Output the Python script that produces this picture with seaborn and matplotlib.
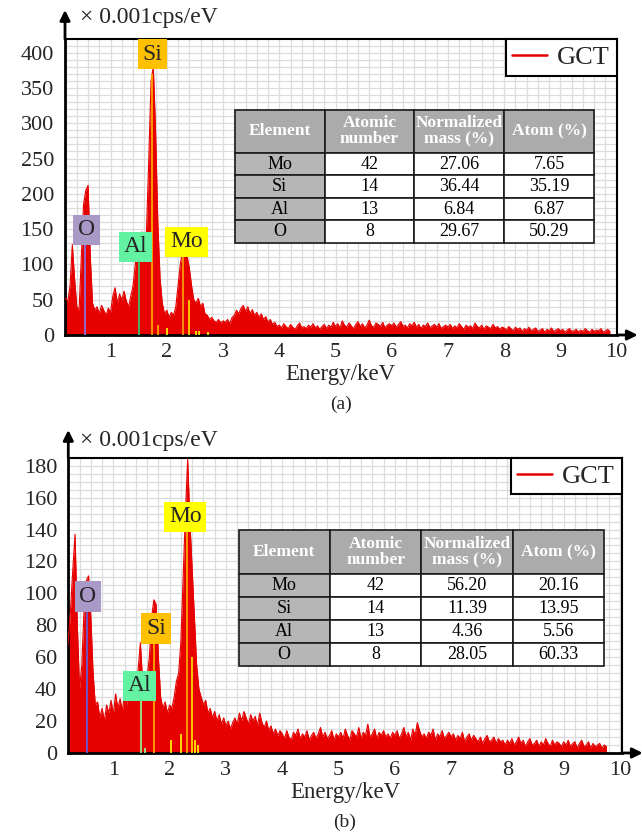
import numpy as np
import matplotlib
matplotlib.use("Agg")
import matplotlib.pyplot as plt
import seaborn as sns
import pandas as pd

# ------------------------------------------------------------------ data
e_start = 0.16      # keV of first channel
e_step = 0.04       # keV per channel

counts_a = [
    50, 52, 48, 70, 128, 80, 40, 35, 110, 185,
    205, 212, 110, 45, 35, 40, 30, 42, 35, 28,
    38, 32, 55, 67, 45, 58, 50, 62, 48, 40,
    55, 70, 100, 130, 140, 146, 110, 150, 250, 360,
    380, 290, 160, 80, 45, 30, 35, 25, 32, 28,
    40, 70, 100, 118, 120, 112, 95, 70, 50, 45,
    52, 40, 45, 30, 28, 22, 25, 20, 18, 22,
    17, 20, 18, 22, 16, 25, 28, 35, 30, 38,
    42, 33, 40, 30, 36, 28, 32, 25, 30, 22,
    26, 18, 22, 15, 18, 12,
    14, 10, 16, 12, 9, 15, 11, 8, 13, 17, 10, 12, 9, 14, 11, 16, 10, 13, 8, 12, 15, 9, 14, 11, 18,
    12, 16, 10, 20, 14, 11, 17, 13, 9, 15, 19, 12, 16, 10, 14, 21, 13, 11, 17, 15, 12, 18, 10, 14, 16,
    13, 17, 11, 15, 19, 12, 14, 10, 16, 13, 18, 11, 15, 9, 14, 12, 17, 10, 13, 15, 11, 16, 9, 12, 14,
    11, 15, 9, 13, 10, 16, 12, 8, 14, 11, 13, 9, 17, 12, 10, 14, 8, 13, 11, 9, 15, 10, 12, 8, 11,
    10, 7, 12, 9, 6, 11, 8, 10, 5, 9, 7, 11, 6, 8, 10, 5, 7, 9, 4, 8, 6, 10, 5, 7, 9,
    6, 8, 4, 7, 9, 5, 6, 8, 4, 7, 5, 9, 6, 4, 8, 5, 7, 6, 9, 4, 6, 8, 5,
]

counts_b = [
    60, 70, 90, 115, 137, 80, 40, 55, 90, 108,
    111, 85, 50, 30, 32, 22, 28, 20, 30, 25,
    33, 24, 37, 28, 34, 26, 38, 30, 42, 35,
    45, 38, 52, 69, 45, 35, 48, 60, 85, 96,
    93, 60, 35, 28, 32, 25, 30, 28, 35, 45,
    50, 70, 110, 150, 184, 145, 115, 85, 55, 40,
    35, 30, 33, 25, 28, 22, 26, 20, 24, 18,
    22, 17, 20, 15, 19, 22, 18, 25, 20, 26,
    22, 18, 24, 20, 23, 17, 25, 19, 16, 20,
    14, 17, 12, 15, 11, 14,
    12, 9, 14, 10, 8, 13, 11, 15, 9, 12, 10, 14, 8, 11, 13, 9, 12, 16, 10, 13, 9, 11, 14, 8, 12,
    10, 13, 9, 15, 11, 8, 14, 12, 10, 16, 9, 13, 11, 18, 10, 12, 15, 9, 13, 11, 14, 10, 12, 9, 13,
    11, 14, 9, 12, 16, 10, 13, 8, 15, 11, 19, 14, 10, 12, 9, 13, 11, 15, 8, 12, 10, 14, 9, 11, 13,
    10, 12, 8, 11, 9, 13, 7, 10, 12, 8, 11, 9, 7, 10, 6, 9, 11, 7, 8, 10, 6, 9, 7, 8, 5,
    8, 6, 9, 5, 7, 10, 6, 8, 4, 7, 9, 5, 6, 8, 4, 7, 5, 9, 6, 4, 8, 5, 7, 6, 4,
    7, 5, 8, 4, 6, 7, 3, 6, 8, 4, 5, 7, 3, 6, 4, 5, 6, 3, 5, 4,
]

x_ticks = [1, 2, 3, 4, 5, 6, 7, 8, 9, 10]
y_ticks_a = [0, 50, 100, 150, 200, 250, 300, 350, 400]
y_ticks_b = [0, 20, 40, 60, 80, 100, 120, 140, 160, 180]

table_cols = ["Element", "Atomic\nnumber", "Normalized\nmass (%)", "Atom (%)"]
elements = ["Mo", "Si", "Al", "O"]
atomic_numbers = ["42", "14", "13", "8"]
mass_a = ["27.06", "36.44", "6.84", "29.67"]
atom_a = ["7.65", "35.19", "6.87", "50.29"]
mass_b = ["56.20", "11.39", "4.36", "28.05"]
atom_b = ["20.16", "13.95", "5.56", "60.33"]

peak_labels = ["O", "Al", "Si", "Mo"]
peak_x_a = [0.57, 1.45, 1.74, 2.35]
peak_y_a = [149, 125, 398, 132]
peak_x_b = [0.55, 1.47, 1.76, 2.28]
peak_y_b = [98, 42, 78, 148]
label_colors = ["#A899C6", "#62F2A2", "#FFC000", "#FFFF00"]

marker_e_a = [0.54, 1.50, 1.74, 2.29, 2.40, 1.84, 2.01, 2.52, 2.58, 2.74]
marker_h_a = [150, 104, 370, 111, 50, 14, 10, 6, 5, 4]
marker_c_a = ["#8A6FE0", "#3DBE6A", "#FFA500", "#FF9900", "#FFD200",
              "#FFA500", "#FFEE00", "#FFEE00", "#FFEE00", "#FFEE00"]
marker_e_b = [0.53, 1.49, 1.73, 2.30, 2.39, 1.57, 2.03, 2.21, 2.45, 2.50]
marker_h_b = [98, 38, 78, 148, 60, 3, 8, 12, 8, 5]
marker_c_b = ["#6A5ACD", "#90EE90", "#FFA500", "#FFA500", "#FFD200",
              "#90EE90", "#FFEE00", "#FFEE00", "#FFEE00", "#FFEE00"]

# ------------------------------------------------------------------ style
sns.set_style("white")
plt.rcParams["font.family"] = ["Liberation Serif", "DejaVu Serif"]

W, H = 642, 838
fig = plt.figure(figsize=(W / 100, H / 100), dpi=100)


def panel(rect_px, counts, xlim, ylim, yticks, yminor, px, py, me, mh, mc,
          rows, tbl_bbox, yunit_y, cap_y, cap):
    l, t, r, b = rect_px
    ax = fig.add_axes([l / W, 1 - b / H, (r - l) / W, (b - t) / H])
    energy = np.round(e_start + e_step * np.arange(len(counts)), 3)
    df = pd.DataFrame({"Energy": energy, "Counts": counts})
    ax.fill_between(df["Energy"], 0, df["Counts"], color="#E60000", lw=0, zorder=2)
    sns.lineplot(data=df, x="Energy", y="Counts", ax=ax, color="#E60000",
                 lw=0.8, label="GCT", zorder=3)
    ax.vlines(me, 0, mh, colors=mc, lw=1.3, zorder=4)
    for lab, x, y, c in zip(peak_labels, px, py, label_colors):
        ax.text(x, y, lab, ha="center", va="center", fontsize=17, zorder=6,
                bbox=dict(boxstyle="square,pad=0.2", fc=c, ec="none"))

    ax.set_xlim(*xlim)
    ax.set_ylim(*ylim)
    ax.set_xticks(x_ticks)
    ax.set_yticks(yticks)
    ax.set_xticks(np.arange(0.2, 10.01, 0.2), minor=True)
    ax.set_yticks(np.arange(0, ylim[1], yminor), minor=True)
    ax.set_axisbelow(True)
    ax.grid(which="both", color="#DCDCDC", lw=0.9, zorder=0)
    ax.tick_params(which="major", direction="in", length=6, width=1.8,
                   labelsize=16, color="black")
    ax.tick_params(axis="y", pad=8)
    ax.tick_params(axis="x", pad=6)
    ax.tick_params(which="minor", length=0)
    for s in ["left", "bottom"]:
        ax.spines[s].set_linewidth(2.0)
    for s in ["top", "right"]:
        ax.spines[s].set_linewidth(1.5)
    for s in ax.spines.values():
        s.set_color("black")
    ax.set_xlabel("Energy/keV", fontsize=16.5, labelpad=1)
    ax.set_ylabel("")

    # axis arrows
    ytip = 1 + (t - yunit_y[0]) / (b - t)
    ax.annotate("", xy=(0, ytip), xytext=(0, 1.0), xycoords="axes fraction",
                arrowprops=dict(arrowstyle="-|>", color="k", lw=2,
                                mutation_scale=15, shrinkA=0, shrinkB=0),
                annotation_clip=False)
    xtip = 1 + 21 / (r - l)
    ax.annotate("", xy=(xtip, 0), xytext=(1.0, 0), xycoords="axes fraction",
                arrowprops=dict(arrowstyle="-|>", color="k", lw=2,
                                mutation_scale=15, shrinkA=0, shrinkB=0),
                annotation_clip=False)

    leg = ax.legend(loc="upper right", fontsize=19, frameon=True, fancybox=False,
                    borderaxespad=0, borderpad=0.25, handlelength=1.3,
                    handletextpad=0.4, framealpha=1)
    leg.get_frame().set_edgecolor("black")
    leg.get_frame().set_linewidth(1.5)
    leg.set_zorder(7)
    for h in leg.get_lines():
        h.set_linewidth(1.8)

    # table
    tx0, ty0, tx1, ty1 = tbl_bbox
    bb = [(tx0 - l) / (r - l), (b - ty1) / (b - t), (tx1 - tx0) / (r - l),
          (ty1 - ty0) / (b - t)]
    tbl = ax.table(cellText=rows, colLabels=table_cols, cellLoc="center",
                   bbox=bb, zorder=8)
    tbl.auto_set_font_size(False)
    for (rr, cc), cell in tbl.get_celld().items():
        cell.set_edgecolor("#1a1a1a")
        cell.set_linewidth(1.2)
        txt = cell.get_text()
        txt.set_linespacing(1.0)
        if rr == 0:
            cell.set_height(cell.get_height() * 1.9)
            cell.set_facecolor("#ABABAB")
            txt.set_color("white")
            txt.set_fontweight("bold")
            txt.set_fontsize(12.5)
        else:
            cell.set_facecolor("#B6B6B6" if cc == 0 else "white")
            txt.set_fontsize(13)
            txt.set_color("black")

    fig.text(80 / W, 1 - yunit_y[1] / H, "\u00d7 0.001cps/eV", fontsize=17,
             ha="left", va="center")
    fig.text((l + r) / 2 / W, 1 - cap_y / H, cap, fontsize=14,
             ha="center", va="center")
    return ax


rows_a = [list(z) for z in zip(elements, atomic_numbers, mass_a, atom_a)]
rows_b = [list(z) for z in zip(elements, atomic_numbers, mass_b, atom_b)]

panel((65, 39, 616.7, 335), counts_a, (0.19, 10.0), (0, 419.4), y_ticks_a, 10,
      peak_x_a, peak_y_a, marker_e_a, marker_h_a, marker_c_a, rows_a,
      (234.7, 110, 594, 243), (10, 18), 404, "(a)")
panel((68.3, 457.7, 621.7, 753), counts_b, (0.2, 10.03), (0, 185), y_ticks_b, 5,
      peak_x_b, peak_y_b, marker_e_b, marker_h_b, marker_c_b, rows_b,
      (238.5, 530.5, 604, 665.8), (430, 440), 822, "(b)")

fig.savefig("out.png", dpi=100)
